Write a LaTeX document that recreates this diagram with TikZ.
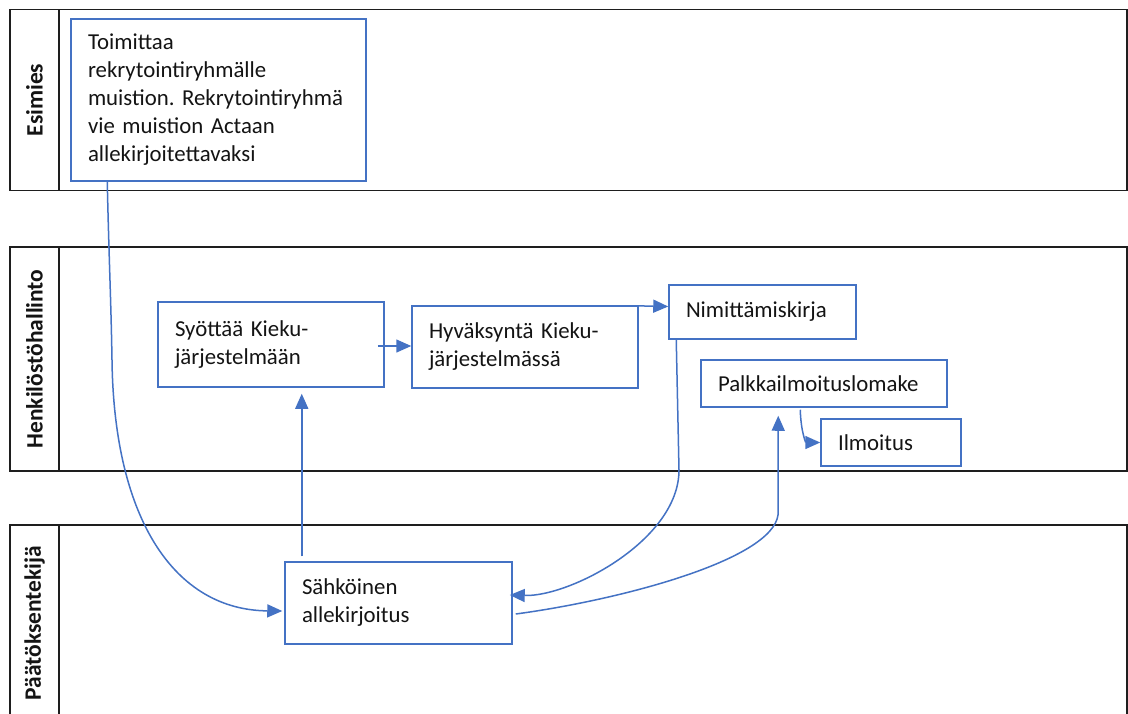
\documentclass[tikz,border=0pt]{standalone}
\usepackage{fontspec}
\usetikzlibrary{arrows.meta,calc}
\newfontfamily\boxfont{Carlito}
\definecolor{boxblue}{RGB}{68,114,196}
\definecolor{laneline}{RGB}{30,30,30}
\frenchspacing
\begin{document}
\begin{tikzpicture}[x=1pt,y=-1pt,
  lane/.style={draw=laneline,line width=1.6pt},
  lanelabel/.style={rotate=90,font=\boxfont\bfseries\fontsize{23.5}{28}\selectfont,text=black!92,inner sep=0pt},
  stepbox/.style={draw=boxblue,line width=1.5pt,rectangle,align=left,inner xsep=17pt,inner ysep=0pt,
    font=\boxfont\fontsize{22.8}{28}\selectfont,text=black!92},
  conn/.style={draw=boxblue,line width=1.5pt,-{Triangle[length=15pt,width=13pt]}}]
\clip (0,0) rectangle (1128,713);
\fill[white] (0,0) rectangle (1128,713);

% swimlanes
\draw[lane] (10,9.5) rectangle (1127,190.5);
\draw[lane] (59,9.5) -- (59,190.5);
\draw[lane] (10,247) rectangle (1127,471);
\draw[lane] (59,247) -- (59,471);
\draw[lane] (10,525) rectangle (1127,721);
\draw[lane] (59,525) -- (59,721);

\node[lanelabel] (lab1) at (34.5,100) {Esimies};
\node[lanelabel] (lab2) at (34.5,359) {Henkilöstöhallinto};
\node[lanelabel] (lab3) at (34.5,623) {Päätöksentekijä};

% process steps
\node[stepbox,text width=261pt,minimum height=162pt] (tm) at (218.5,100)
  {Toimittaa\\rekrytointiryhmälle\\muistion. Rekrytointiryhmä\\vie muistion Actaan\\allekirjoitettavaksi};
\node[stepbox,text width=192pt,minimum height=85pt] (syotta) at (271,344.5)
  {Syöttää Kieku-\\järjestelmään};
\node[stepbox,text width=192pt,minimum height=82pt] (hyv) at (525,347)
  {Hyväksyntä Kieku-\\järjestelmässä};
\node[stepbox,text width=153pt,minimum height=54pt] (nimit) at (762.5,312)
  {Nimittämiskirja};
\node[stepbox,text width=212pt,minimum height=47pt] (palkka) at (824,383.5)
  {Palkkailmoituslomake};
\node[stepbox,text width=106pt,minimum height=47pt] (ilm) at (891,442.5)
  {Ilmoitus};
\node[stepbox,text width=193pt,minimum height=82pt] (sahko) at (398.5,603)
  {Sähköinen\\allekirjoitus};

% connectors
\draw[conn] ($(tm.south west)+(37,0)$) .. controls (109,260) and (111,300) .. (112,360)
  .. controls (114,520) and (175,610) .. ($(sahko.west)+(-2,8)$);
\draw[conn] ($(sahko.north west)+(17.5,-5)$) -- ($(syotta.south west)+(144.5,6)$);
\draw[conn] ($(syotta.east)+(-7,1.5)$) -- ($(hyv.west)+(0,-1)$);
\draw[conn] ($(hyv.north east)+(-6,0.5)$) -- ($(nimit.west)+(0,-5.5)$);
\draw[conn] ($(nimit.south west)+(8,0)$) -- (679,470)
  .. controls (679,540) and (570,597) .. ($(sahko.east)+(-3,-8)$);
\draw[conn] ($(sahko.east)+(3,11)$) .. controls (620,600) and (772,560) .. (778,515)
  -- ($(palkka.south west)+(78,8)$);
\draw[conn] ($(palkka.south west)+(100,2)$) .. controls (801,433) and (806,442.5) .. (ilm.west);
\end{tikzpicture}
\end{document}
